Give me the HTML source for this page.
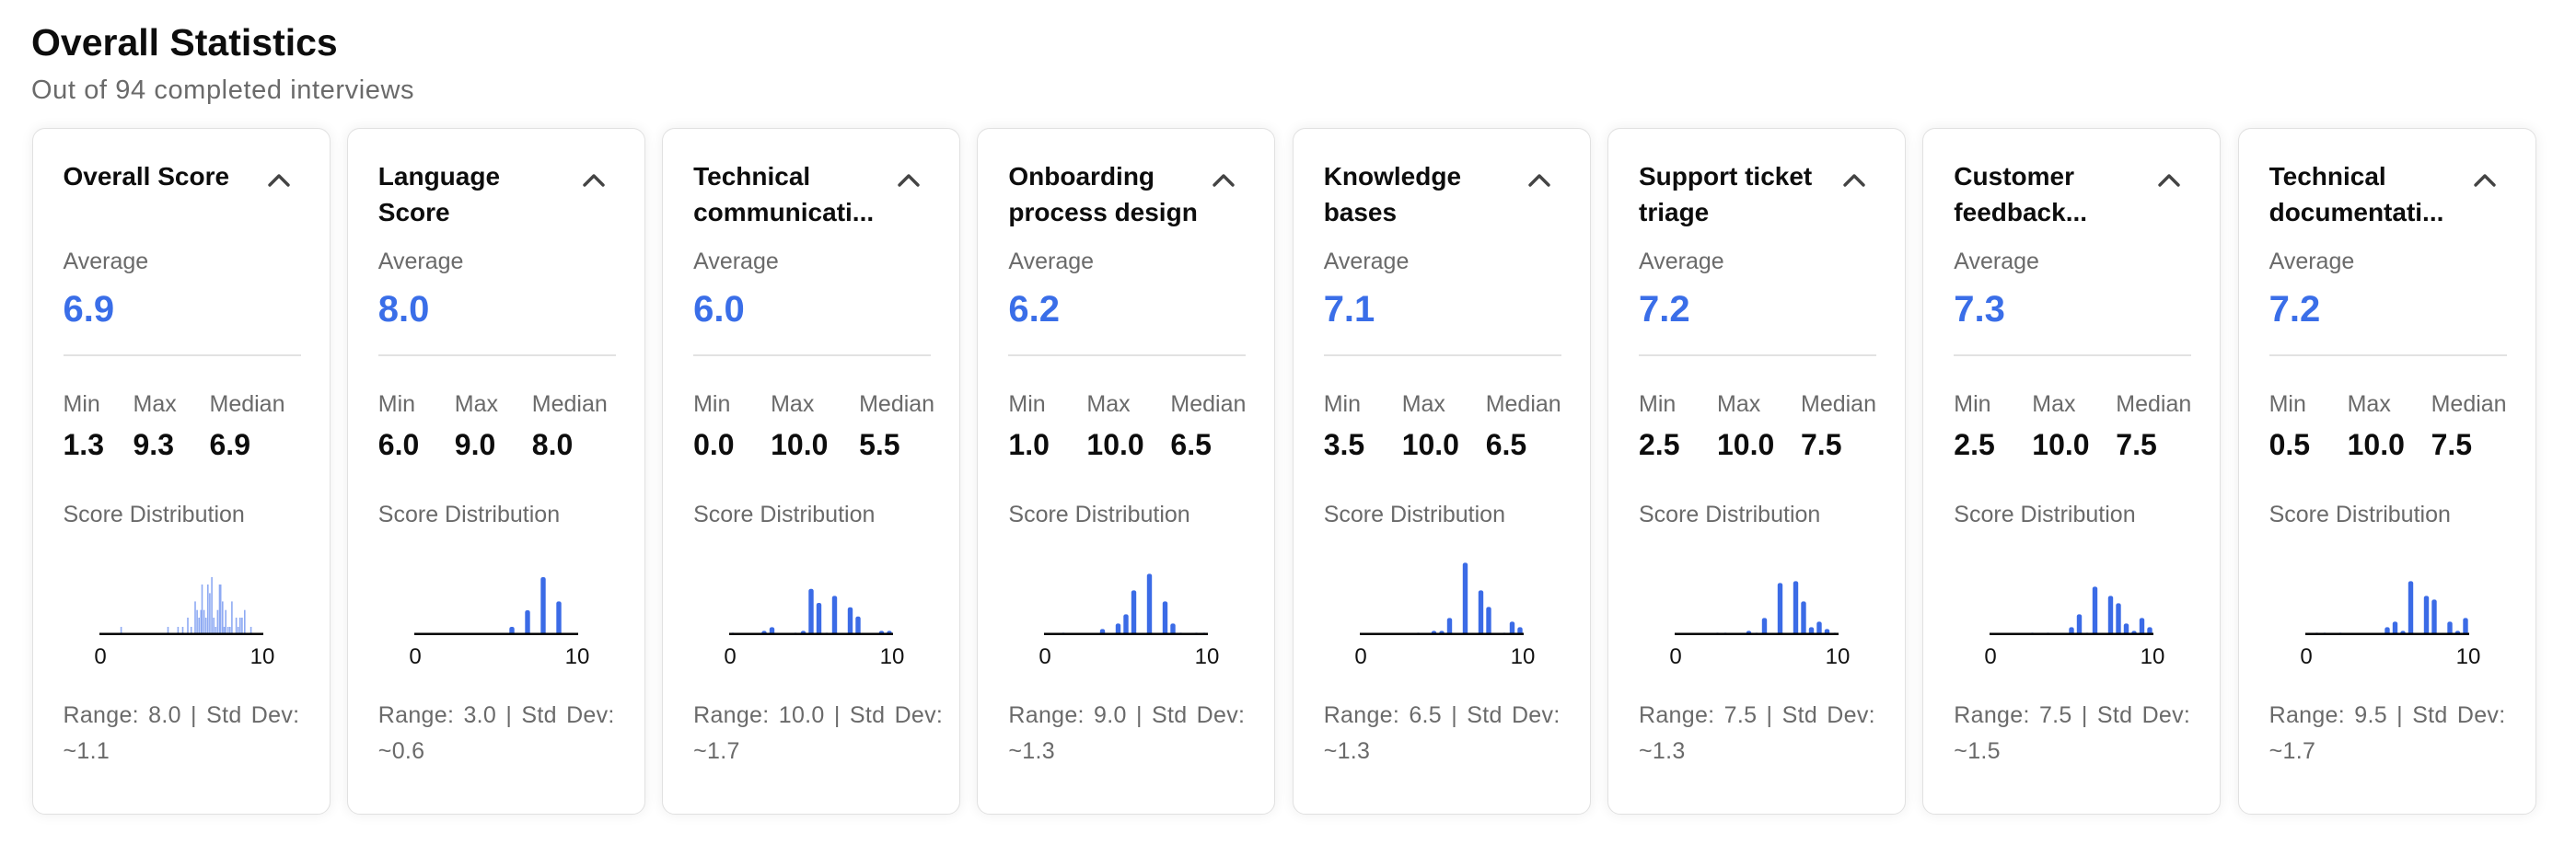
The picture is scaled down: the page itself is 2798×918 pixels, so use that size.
<!DOCTYPE html>
<html><head><meta charset="utf-8">
<style>
*{margin:0;padding:0;box-sizing:border-box}
body{width:2798px;height:918px;background:#fff;font-family:"Liberation Sans",Arial,sans-serif;position:relative;overflow:hidden;color:#111}
.h1{position:absolute;left:34px;top:22px;font-size:41px;font-weight:bold;line-height:48px;color:#0d0d0d}
.sub{position:absolute;left:34px;top:80px;font-size:29px;line-height:36px;color:#6a6a6a;letter-spacing:0.6px}
.card{position:absolute;top:139px;width:324px;height:746px;border:1.5px solid #e1e1e1;border-radius:14px;background:#fff;box-shadow:0 0 14px rgba(0,0,0,0.07)}
.card>*{position:absolute}
.t{left:33px;top:32px;font-size:28px;font-weight:bold;line-height:39px;color:#0d0d0d;white-space:nowrap}
.lab{font-size:25px;line-height:30px;color:#6a6a6a;white-space:nowrap}
.avg{left:33px;top:172px;font-size:40px;font-weight:bold;line-height:48px;color:#3a6ee8}
.div{left:33px;top:245px;width:258px;height:2px;background:#e2e2e2}
.v{top:324px;font-size:32px;font-weight:bold;line-height:38px;color:#0d0d0d}
.rng{left:33px;top:618px;font-size:25px;line-height:39px;color:#6a6a6a;white-space:nowrap;word-spacing:3px;letter-spacing:0.3px}
svg{overflow:visible}
</style></head><body>
<div class="h1">Overall Statistics</div>
<div class="sub">Out of 94 completed interviews</div>
<div id="root"></div>
<script>
var cards=[
["Overall Score","6.9","1.3","9.3","6.9","8.0","~1.1",[0,76,159],null],
["Language<br>Score","8.0","6.0","9.0","8.0","3.0","~0.6",[0,83,167],[[6,7.7],[7,25.7],[8,61.7],[9,35.3]]],
["Technical<br>communicati...","6.0","0.0","10.0","5.5","10.0","~1.7",[0,84,180],[[0,1.3],[2,3.3],[2.5,7.3],[4,1.3],[4.5,3.3],[5,49],[5.5,33.7],[6,1.3],[6.5,41.3],[7.5,29],[8,19],[9.5,3.3],[10,3.3]]],
["Onboarding<br>process design","6.2","1.0","10.0","6.5","9.0","~1.3",[0,85,176],[[1,1.3],[3.5,5.3],[4.5,11.3],[5,21.3],[5.5,47.3],[6.5,65.3],[7.5,35.3],[8,11.3],[8.5,1.3],[9.5,1.3],[10,1.3]]],
["Knowledge<br>bases","7.1","3.5","10.0","6.5","6.5","~1.3",[0,85,176],[[3.5,1.3],[4.5,3.3],[5,3.3],[5.5,17.3],[6.5,77.3],[7.5,47.3],[8,29.3],[9,1.3],[9.5,13.3],[10,7.3]]],
["Support ticket<br>triage","7.2","2.5","10.0","7.5","7.5","~1.3",[0,85,176],[[2.5,1.3],[3,1.3],[4.5,3.3],[5,1.3],[5.5,17.3],[6.5,55.3],[7.5,57.3],[8,35.3],[8.5,7.3],[9,13.3],[9.5,5.3],[10,1.3]]],
["Customer<br>feedback...","7.3","2.5","10.0","7.5","7.5","~1.5",[0,85,176],[[2.5,1.3],[3.5,1.3],[5,7.3],[5.5,21.3],[6,1.3],[6.5,51.3],[7.5,41.3],[8,33.3],[8.5,11.3],[9,3.3],[9.5,17.3],[10,7.3]]],
["Technical<br>documentati...","7.2","0.5","10.0","7.5","9.5","~1.7",[0,85,176],[[0.5,1.3],[1,1.3],[2,1.3],[5,7.3],[5.5,13.3],[6,3.3],[6.5,57.3],[7.5,41.3],[8,37.3],[9,13.3],[9.5,3.3],[10,17.3]]]
];
var c1=[[171,240],[292,240],[318,240],[330,240],[343,210],[352,240],[362,157],[367,185],[372,210],[377,185],[380,102],[385,185],[390,210],[395,102],[400,130],[405,78],[410,210],[415,240],[420,185],[425,102],[428,102],[433,157],[437,240],[441,185],[447,240],[452,240],[457,157],[468,210],[473,240],[478,210],[483,210],[490,185],[506,240]];
var h="";
cards.forEach(function(c,i){
 var L=34.5+i*342.3,p=c[7];
 var s='<div class="card" style="left:'+L.toFixed(1)+'px">';
 s+='<div class="t">'+c[0]+'</div>';
 s+='<svg style="left:254px;top:46px" width="26" height="18"><polyline points="3,15 13,5 23,15" fill="none" stroke="#444" stroke-width="3.4" stroke-linecap="round" stroke-linejoin="round"/></svg>';
 s+='<div class="lab" style="left:33px;top:129px">Average</div>';
 s+='<div class="avg">'+c[1]+'</div><div class="div"></div>';
 var ls=["Min","Max","Median"];
 for(var k=0;k<3;k++){s+='<div class="lab" style="left:'+(33+p[k])+'px;top:284px">'+ls[k]+'</div>';
  s+='<div class="v" style="left:'+(33+p[k])+'px">'+c[2+k]+'</div>';}
 s+='<div class="lab" style="left:33px;top:404px">Score Distribution</div>';
 var g='<svg style="left:0;top:0" width="324" height="746">';
 var ax=548.7;
 if(c[8]){c[8].forEach(function(b){var x=72+4+b[0]*17-2.7;var hh=b[1];
  g+='<rect x="'+x.toFixed(1)+'" y="'+(ax-hh).toFixed(1)+'" width="5.4" height="'+(hh+1).toFixed(1)+'" rx="2.2" fill="#3b6be6"/>';});}
 else{c1.forEach(function(b){var x=72+(b[0]-115)/2.376;var hh=(263-b[1])/3;
  g+='<rect x="'+(x-0.8).toFixed(1)+'" y="'+(ax-hh).toFixed(1)+'" width="1.6" height="'+hh.toFixed(1)+'" fill="#8eaaf3"/>';});}
 g+='<line x1="72" y1="'+ax+'" x2="250" y2="'+ax+'" stroke="#000" stroke-width="2.5"/>';
 g+='<text x="73" y="581" font-size="24" text-anchor="middle" fill="#111" font-family="Liberation Sans,sans-serif">0</text>';
 g+='<text x="249" y="581" font-size="24" text-anchor="middle" fill="#111" font-family="Liberation Sans,sans-serif">10</text></svg>';
 s+=g;
 s+='<div class="rng">Range: '+c[5]+' | Std Dev:<br>'+c[6]+'</div>';
 s+='</div>';h+=s;
});
document.getElementById("root").innerHTML=h;
</script>
</body></html>
